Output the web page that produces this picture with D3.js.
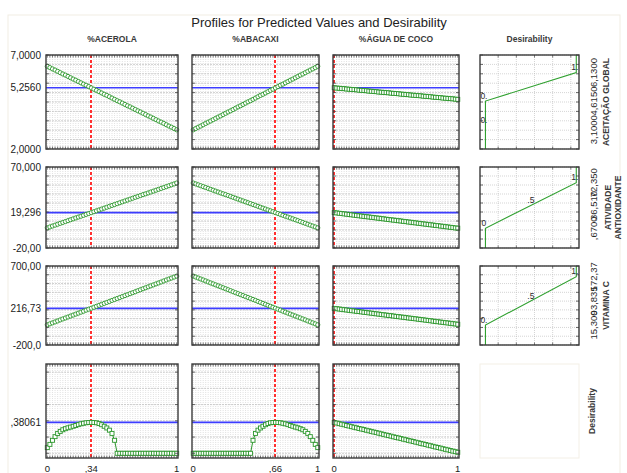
<!DOCTYPE html>
<html>
<head>
<meta charset="utf-8">
<script src="https://cdn.jsdelivr.net/npm/d3@7"></script>
<style>
  body { margin: 0; background: #fff; }
  text { font-family: "Liberation Sans", Arial, sans-serif; }
</style>
</head>
<body>
<div id="main"></div>
<script>
// factor levels along each profile
const xGrid = [0,0.02,0.04,0.06,0.08,0.1,0.12,0.14,0.16,0.18,0.2,0.22,0.24,0.26,0.28,0.3,0.32,0.34,0.36,0.38,0.4,0.42,0.44,0.46,0.48,0.5,0.52,0.54,0.56,0.58,0.6,0.62,0.64,0.66,0.68,0.7,0.72,0.74,0.76,0.78,0.8,0.82,0.84,0.86,0.88,0.9,0.92,0.94,0.96,0.98,1];

const factors = ['%ACEROLA', '%ABACAXI', '%ÁGUA DE COCO'];
const currentLevels = [0.34, 0.66, 0];
const xTickLabels = [['0', ',34', '1'], ['0', ',66', '1'], ['0', '1']];
const xTickValues = [[0, 0.34, 1], [0, 0.66, 1], [0, 1]];

const responses = ['ACEITAÇÃO GLOBAL', 'ATIVIDADE ANTIOXIDANTE', 'VITAMINA C', 'Desirability'];
const predicted = [5.256, 19.296, 216.73, 0.38061];
const yDomains = [[2, 7], [-20, 70], [-200, 700], [-0.058, 1.10]];
const yTickSpec = [[2, 7, 0.5], [-20, 70, 10], [-200, 700, 100], [0, 1, 0.2]];
const yTickLabels = [['7,0000', '5,2560', '2,0000'], ['70,000', '19,296', '-20,00'], ['700,00', '216,73', '-200,0'], ['', ',38061', '']];

// ACEITAÇÃO GLOBAL
const acAcerola = [6.40,6.33,6.26,6.20,6.13,6.06,5.99,5.93,5.86,5.79,5.72,5.66,5.59,5.52,5.45,5.39,5.32,5.25,5.18,5.12,5.05,4.98,4.91,4.85,4.78,4.71,4.64,4.57,4.51,4.44,4.37,4.30,4.24,4.17,4.10,4.03,3.97,3.90,3.83,3.76,3.70,3.63,3.56,3.49,3.43,3.36,3.29,3.22,3.16,3.09,3.02];
const acAbacaxi = [3.02,3.09,3.16,3.22,3.29,3.36,3.43,3.49,3.56,3.63,3.70,3.76,3.83,3.90,3.97,4.03,4.10,4.17,4.24,4.30,4.37,4.44,4.51,4.57,4.64,4.71,4.78,4.85,4.91,4.98,5.05,5.12,5.18,5.25,5.32,5.39,5.45,5.52,5.59,5.66,5.72,5.79,5.86,5.93,5.99,6.06,6.13,6.20,6.26,6.33,6.40];
const acAgua = [5.26,5.24,5.23,5.22,5.21,5.19,5.18,5.17,5.16,5.15,5.13,5.12,5.11,5.10,5.08,5.07,5.06,5.05,5.03,5.02,5.01,5.00,4.99,4.97,4.96,4.95,4.94,4.92,4.91,4.90,4.89,4.87,4.86,4.85,4.84,4.83,4.81,4.80,4.79,4.78,4.76,4.75,4.74,4.73,4.71,4.70,4.69,4.68,4.67,4.65,4.64];

// ATIVIDADE ANTIOXIDANTE
const atAcerola = [2.4,3.4,4.4,5.4,6.4,7.4,8.4,9.4,10.4,11.4,12.4,13.4,14.4,15.3,16.3,17.3,18.3,19.3,20.3,21.3,22.3,23.3,24.3,25.3,26.3,27.3,28.3,29.3,30.3,31.3,32.3,33.3,34.3,35.3,36.3,37.3,38.3,39.3,40.2,41.2,42.2,43.2,44.2,45.2,46.2,47.2,48.2,49.2,50.2,51.2,52.2];
const atAbacaxi = [52.2,51.2,50.2,49.2,48.2,47.2,46.2,45.2,44.2,43.2,42.2,41.2,40.2,39.3,38.3,37.3,36.3,35.3,34.3,33.3,32.3,31.3,30.3,29.3,28.3,27.3,26.3,25.3,24.3,23.3,22.3,21.3,20.3,19.3,18.3,17.3,16.3,15.3,14.4,13.4,12.4,11.4,10.4,9.4,8.4,7.4,6.4,5.4,4.4,3.4,2.4];
const atAgua = [19.3,19.0,18.6,18.3,17.9,17.6,17.2,16.9,16.5,16.2,15.8,15.5,15.1,14.8,14.5,14.1,13.8,13.4,13.1,12.7,12.4,12.0,11.7,11.3,11.0,10.7,10.3,10.0,9.6,9.3,8.9,8.6,8.2,7.9,7.5,7.2,6.8,6.5,6.2,5.8,5.5,5.1,4.8,4.4,4.1,3.7,3.4,3.0,2.7,2.3,2.0];

// VITAMINA C
const vcAcerola = [30,41,52,63,74,86,97,108,119,130,141,152,163,174,185,197,208,219,230,241,252,263,274,285,296,308,319,330,341,352,363,374,385,396,407,419,430,441,452,463,474,485,496,507,518,530,541,552,563,574,585];
const vcAbacaxi = [585,574,563,552,541,530,518,507,496,485,474,463,452,441,430,419,407,396,385,374,363,352,341,330,319,308,296,285,274,263,252,241,230,219,208,197,185,174,163,152,141,130,119,108,97,86,74,63,52,41,30];
const vcAgua = [217,213,210,206,202,199,195,191,188,184,181,177,173,170,166,163,159,155,152,148,144,141,137,134,130,126,123,119,116,112,108,105,101,98,94,90,87,83,80,76,72,69,65,61,58,54,51,47,43,40,36];

// overall desirability
const dsAcerola = [0.07,0.11,0.16,0.205,0.245,0.27,0.29,0.303,0.314,0.323,0.333,0.343,0.353,0.363,0.37,0.376,0.379,0.3806,0.379,0.376,0.366,0.352,0.333,0.312,0.285,0.245,0.16,0,0,0,0,0,0,0,0,0,0,0,0,0,0,0,0,0,0,0,0,0,0,0,0];
const dsAbacaxi = [0,0,0,0,0,0,0,0,0,0,0,0,0,0,0,0,0,0,0,0,0,0,0,0,0.16,0.245,0.285,0.312,0.333,0.352,0.366,0.376,0.379,0.3806,0.379,0.376,0.37,0.363,0.353,0.343,0.333,0.323,0.314,0.303,0.29,0.27,0.245,0.205,0.16,0.11,0.07];
const dsAgua = [0.380,0.373,0.365,0.358,0.351,0.343,0.336,0.328,0.321,0.314,0.306,0.299,0.292,0.284,0.277,0.270,0.262,0.255,0.248,0.240,0.233,0.225,0.218,0.211,0.203,0.196,0.189,0.181,0.174,0.167,0.159,0.152,0.145,0.137,0.130,0.122,0.115,0.108,0.100,0.093,0.086,0.078,0.071,0.064,0.056,0.049,0.042,0.034,0.027,0.020,0.012];

const profiles = [
  [acAcerola, acAbacaxi, acAgua],
  [atAcerola, atAbacaxi, atAgua],
  [vcAcerola, vcAbacaxi, vcAgua],
  [dsAcerola, dsAbacaxi, dsAgua]
];

// desirability functions (low / mid / high of each response)
const dLow = [3.1, 0.67, 15.3];
const dMid = [4.615, 36.51, 93.835];
const dHigh = [6.13, 72.35, 172.37];
const dDomains = [[-2, 8], [-30.3, 97.0], [-49.7, 207.2]];
const dValueLabels = [['3,1000', '4,6150', '6,1300'], [',6700', '36,510', '72,350'], ['15,300', '93,835', '172,37']];
const dValueLabelAt = [[0.05, 3.1, 6.13], [0.67, 36.51, 72.35], [15.3, 93.835, 172.37]];
const dLevelLabels = [
  [['0.', 0, 3.1], ['0.', 0, 0.6], ['1.', 1, 6.13]],
  [['0', 0, 0.67], ['.5', 0.5, 36.51], ['1.', 1, 72.35]],
  [['0.', 0, 15.3], ['.5', 0.5, 93.835], ['1.', 1, 172.37]]
];

class Profiles {
  constructor(config) {
    this.config = config;
    this.svg = null;
    this.createSvg();
  }

  createSvg() {
    this.svg = d3.select(this.config.div)
      .append('svg')
      .attr('width', this.config.width)
      .attr('height', this.config.height);
  }

  renderTitles() {
    const s = this.svg;
    s.append('rect')
      .attr('x', 8).attr('y', 15).attr('width', 612).attr('height', 470)
      .attr('fill', 'none').attr('stroke', '#f1ede3');

    s.append('text')
      .attr('x', 319).attr('y', 27)
      .attr('text-anchor', 'middle')
      .attr('font-size', 13)
      .attr('fill', '#222')
      .text('Profiles for Predicted Values and Desirability');

    const heads = factors.concat(['Desirability']);
    heads.forEach((h, i) => {
      const [x0, x1] = this.config.cols[i];
      s.append('text')
        .attr('x', (x0 + x1) / 2).attr('y', 42)
        .attr('text-anchor', 'middle')
        .attr('font-size', 8.5)
        .attr('font-weight', 'bold')
        .attr('fill', '#3a3a3a')
        .text(h);
    });
  }

  frameTicks(g, x0, x1, y0, y1, xs, ys, len) {
    // ticks drawn inward from the frame
    g.selectAll(null).data(xs).join('line')
      .attr('x1', d => d).attr('x2', d => d)
      .attr('y1', y0).attr('y2', y0 + len)
      .attr('stroke', '#444').attr('stroke-width', 0.7);
    g.selectAll(null).data(xs).join('line')
      .attr('x1', d => d).attr('x2', d => d)
      .attr('y1', y1).attr('y2', y1 - len)
      .attr('stroke', '#444').attr('stroke-width', 0.7);
    g.selectAll(null).data(ys).join('line')
      .attr('x1', x0).attr('x2', x0 + 3)
      .attr('y1', d => d).attr('y2', d => d)
      .attr('stroke', '#444').attr('stroke-width', 0.8);
    g.selectAll(null).data(ys).join('line')
      .attr('x1', x1).attr('x2', x1 - 3)
      .attr('y1', d => d).attr('y2', d => d)
      .attr('stroke', '#444').attr('stroke-width', 0.8);
    g.append('rect')
      .attr('x', x0).attr('y', y0)
      .attr('width', x1 - x0).attr('height', y1 - y0)
      .attr('fill', 'none')
      .attr('stroke', '#3a3a3a')
      .attr('stroke-width', 1.4);
  }

  renderProfile(row, col) {
    const [x0, x1] = this.config.cols[col];
    const [y0, y1] = this.config.rows[row];
    const xScale = d3.scaleLinear().domain([-0.01, 1.01]).range([x0, x1]);
    const yScale = d3.scaleLinear().domain(yDomains[row]).range([y1, y0]);
    const [t0, t1, step] = yTickSpec[row];
    const yTicks = d3.range(t0, t1 + step / 2, step);
    const values = profiles[row][col];
    const pts = xGrid.map((x, i) => [x, values[i]]);

    const g = this.svg.append('g');
    g.append('rect')
      .attr('x', x0).attr('y', y0)
      .attr('width', x1 - x0).attr('height', y1 - y0)
      .attr('fill', '#fff');

    // dense minor grid, skipping the column under the current-level marker
    const level = currentLevels[col];
    g.selectAll(null).data(xGrid.filter(d => Math.abs(d - level) > 0.005)).join('line')
      .attr('x1', d => xScale(d)).attr('x2', d => xScale(d))
      .attr('y1', y0).attr('y2', y1)
      .attr('stroke', '#cfcfcf').attr('stroke-width', 0.6)
      .attr('stroke-dasharray', '1,1');

    g.selectAll(null).data(yTicks).join('line')
      .attr('x1', x0).attr('x2', x1)
      .attr('y1', d => yScale(d)).attr('y2', d => yScale(d))
      .attr('stroke', '#bcbcbc').attr('stroke-width', 0.7)
      .attr('stroke-dasharray', '2,1');

    g.append('line')
      .attr('x1', x0).attr('x2', x1)
      .attr('y1', yScale(predicted[row])).attr('y2', yScale(predicted[row]))
      .attr('stroke', '#3d3dff').attr('stroke-width', 1.6);

    const cx = Math.round(xScale(level));
    g.append('line')
      .attr('x1', cx).attr('x2', cx)
      .attr('y1', y0).attr('y2', y1)
      .attr('stroke', '#ff3030').attr('stroke-width', 2)
      .attr('stroke-dasharray', '3,2');

    g.append('path')
      .datum(pts)
      .attr('fill', 'none')
      .attr('stroke', '#2a962a')
      .attr('stroke-width', 1)
      .attr('d', d3.line().x(d => xScale(d[0])).y(d => yScale(d[1])));

    if (row < 3 && col < 2) {
      g.selectAll(null).data(pts).join('circle')
        .attr('cx', d => xScale(d[0]))
        .attr('cy', d => yScale(d[1]))
        .attr('r', 2.1)
        .attr('fill', '#fff')
        .attr('stroke', '#2a962a')
        .attr('stroke-width', 0.9);
    } else {
      g.selectAll(null).data(pts).join('rect')
        .attr('x', d => xScale(d[0]) - 2)
        .attr('y', d => yScale(d[1]) - 2)
        .attr('width', 4).attr('height', 4)
        .attr('fill', '#fff')
        .attr('stroke', '#2a962a')
        .attr('stroke-width', 0.9);
    }

    this.frameTicks(g, x0, x1, y0, y1, xGrid.map(xScale), yTicks.map(yScale), 2.5);

    if (col === 0) {
      const ly = [y0, yScale(predicted[row]), y1];
      yTickLabels[row].forEach((t, i) => {
        this.svg.append('text')
          .attr('x', 41).attr('y', ly[i])
          .attr('text-anchor', 'end')
          .attr('dominant-baseline', 'central')
          .attr('font-size', 10)
          .attr('fill', '#1a1a1a')
          .text(t);
      });
    }

    if (row === 3) {
      xTickValues[col].forEach((v, i) => {
        this.svg.append('text')
          .attr('x', xScale(v)).attr('y', 471.5)
          .attr('text-anchor', 'middle')
          .attr('font-size', 9.5)
          .attr('fill', '#1a1a1a')
          .text(xTickLabels[col][i]);
      });
    }
  }

  renderDesirability(row) {
    const [x0, x1] = this.config.cols[3];
    const [y0, y1] = this.config.rows[row];
    const xScale = d3.scaleLinear().domain([-0.06, 1.03]).range([x0, x1]);
    const yScale = d3.scaleLinear().domain(dDomains[row]).range([y1, y0]);
    const rowScale = d3.scaleLinear().domain(yDomains[row]).range([y1, y0]);
    const [t0, t1, step] = yTickSpec[row];
    const ys = d3.range(t0, t1 + step / 2, step).map(rowScale);
    const xs = [0.14, 0.34, 0.54, 0.74, 0.94].map(xScale);

    const g = this.svg.append('g');
    g.append('rect')
      .attr('x', x0).attr('y', y0)
      .attr('width', x1 - x0).attr('height', y1 - y0)
      .attr('fill', '#fff');
    g.selectAll(null).data(xs).join('line')
      .attr('x1', d => d).attr('x2', d => d)
      .attr('y1', y0).attr('y2', y1)
      .attr('stroke', '#b8b8b8').attr('stroke-width', 0.6)
      .attr('stroke-dasharray', '1,1');
    g.selectAll(null).data(ys).join('line')
      .attr('x1', x0).attr('x2', x1)
      .attr('y1', d => d).attr('y2', d => d)
      .attr('stroke', '#b8b8b8').attr('stroke-width', 0.6)
      .attr('stroke-dasharray', '1,1');

    const curve = [[0, dDomains[row][0]], [0, dLow[row]], [1, dHigh[row]], [1, dDomains[row][1]]];
    g.append('path')
      .datum(curve)
      .attr('fill', 'none')
      .attr('stroke', '#2fa02f')
      .attr('stroke-width', 1.1)
      .attr('d', d3.line().x(d => xScale(d[0])).y(d => yScale(d[1])));

    dLevelLabels[row].forEach(([t, d, v]) => {
      g.append('text')
        .attr('x', xScale(d) + (d === 0.5 ? 0 : -1.5))
        .attr('y', yScale(v) - (d === 1 ? 6 : 5))
        .attr('text-anchor', 'middle')
        .attr('dominant-baseline', 'central')
        .attr('font-size', 8.5)
        .attr('fill', '#2a2a2a')
        .text(t);
    });

    this.frameTicks(g, x0, x1, y0, y1, xs, ys, 2.5);

    dValueLabels[row].forEach((t, i) => {
      const cy = yScale(dValueLabelAt[row][i]);
      this.svg.append('text')
        .attr('transform', `translate(593,${cy}) rotate(-90)`)
        .attr('text-anchor', 'middle')
        .attr('dominant-baseline', 'central')
        .attr('font-size', 9.5)
        .attr('fill', '#2a2a2a')
        .text(t);
    });

    const cy = (y0 + y1) / 2;
    const words = row === 1 ? ['ATIVIDADE', 'ANTIOXIDANTE'] : [responses[row]];
    words.forEach((w, i) => {
      const cx = row === 1 ? 607.5 + i * 10.5 : 606;
      this.svg.append('text')
        .attr('transform', `translate(${cx},${cy}) rotate(-90)`)
        .attr('text-anchor', 'middle')
        .attr('dominant-baseline', 'central')
        .attr('font-size', 8.5)
        .attr('font-weight', 'bold')
        .attr('fill', '#3a3a3a')
        .text(w);
    });
  }

  renderEmptyCell() {
    const [x0, x1] = this.config.cols[3];
    const [y0, y1] = this.config.rows[3];
    this.svg.append('rect')
      .attr('x', x0).attr('y', y0)
      .attr('width', x1 - x0).attr('height', y1 - y0)
      .attr('fill', 'none').attr('stroke', '#f3efe6');
    this.svg.append('text')
      .attr('transform', `translate(592,${(y0 + y1) / 2}) rotate(-90)`)
      .attr('text-anchor', 'middle')
      .attr('dominant-baseline', 'central')
      .attr('font-size', 8.5)
      .attr('font-weight', 'bold')
      .attr('fill', '#3a3a3a')
      .text(responses[3]);
  }
}

function main() {
  const c = {
    div: '#main', width: 627, height: 473,
    cols: [[46, 178], [192, 319], [333, 459], [480, 579]],
    rows: [[55, 149], [167, 248], [266, 345], [364, 458]]
  };
  const p = new Profiles(c);
  p.renderTitles();
  for (let r = 0; r < 4; r++) {
    for (let k = 0; k < 3; k++) p.renderProfile(r, k);
  }
  for (let r = 0; r < 3; r++) p.renderDesirability(r);
  p.renderEmptyCell();
}

main();
</script>
</body>
</html>
